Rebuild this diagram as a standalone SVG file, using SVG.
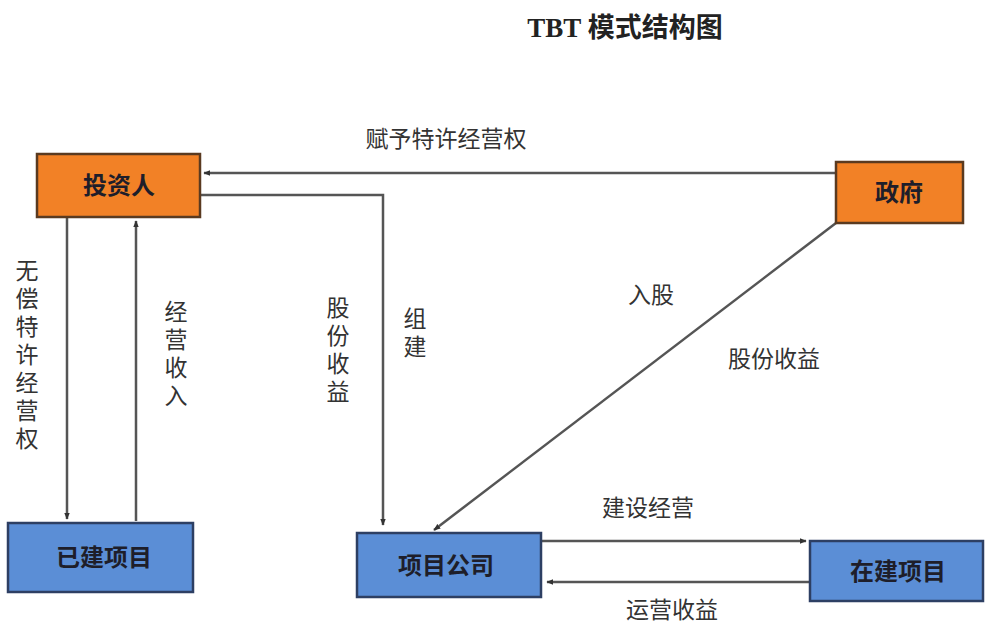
<svg xmlns="http://www.w3.org/2000/svg" width="988" height="627" viewBox="0 0 988 627">
<defs>
<marker id="ah" viewBox="0 0 10 10" refX="9" refY="5" markerWidth="7" markerHeight="7" markerUnits="userSpaceOnUse" orient="auto">
<path d="M0,1 L10,5 L0,9 z" fill="#333"/>
</marker>
<style>
.org{fill:#F28126;stroke:#5a3a20;stroke-width:2.5}
.blu{fill:#5B8ED6;stroke:#2d3f63;stroke-width:2.5}
.nt{font-family:"Noto Sans CJK SC","Liberation Sans",sans-serif;font-size:24px;font-weight:bold;fill:#1e1e2a;text-anchor:middle}
.lb{font-family:"Noto Sans CJK SC","Liberation Sans",sans-serif;font-size:23px;fill:#333;text-anchor:middle}
.vt{font-family:"Noto Sans CJK SC","Liberation Sans",sans-serif;font-size:23px;fill:#333;writing-mode:vertical-rl;text-orientation:upright;letter-spacing:5px}
.ln{fill:none;stroke:#555;stroke-width:2.5;marker-end:url(#ah)}
</style>
</defs>
<rect width="988" height="627" fill="#fff"/>
<text x="625" y="37" font-family="Liberation Serif,Noto Sans CJK SC,serif" font-size="27" font-weight="bold" fill="#222" text-anchor="middle">TBT 模式结构图</text>
<g id="connectors">
<path class="ln" d="M836,173 L204,173"/>
<path class="ln" d="M200,195 L383,195 L383,525"/>
<path class="ln" d="M67,218 L67,519"/>
<path class="ln" d="M136,521 L136,221"/>
<path class="ln" d="M836,223 L434,530"/>
<path class="ln" d="M542,541 L806,541"/>
<path class="ln" d="M810,582 L547,582"/>
</g>
<g id="labels">
<text class="lb" x="446" y="147">赋予特许经营权</text>
<text class="lb" x="651" y="303">入股</text>
<text class="lb" x="774" y="367">股份收益</text>
<text class="lb" x="648" y="516">建设经营</text>
<text class="lb" x="672" y="618">运营收益</text>
<text class="vt" x="27" y="259">无偿特许经营权</text>
<text class="vt" x="176" y="300">经营收入</text>
<text class="vt" x="338" y="296">股份收益</text>
<text class="vt" x="415" y="307">组建</text>
</g>
<g id="investor"><rect class="org" x="37" y="154" width="163" height="63"/><text class="nt" x="119" y="194">投资人</text></g>
<g id="government"><rect class="org" x="836" y="162" width="127" height="61"/><text class="nt" x="899" y="201">政府</text></g>
<g id="built"><rect class="blu" x="8" y="523" width="185" height="69"/><text class="nt" x="104" y="566">已建项目</text></g>
<g id="company"><rect class="blu" x="357" y="533" width="184" height="64"/><text class="nt" x="446" y="574">项目公司</text></g>
<g id="building"><rect class="blu" x="810" y="541" width="173" height="60"/><text class="nt" x="898" y="580">在建项目</text></g>
</svg>
